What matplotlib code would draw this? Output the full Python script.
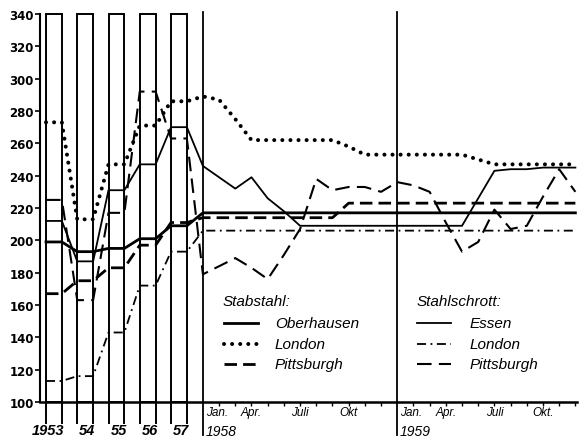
import matplotlib
matplotlib.use('Agg')
import matplotlib.pyplot as plt
from matplotlib.patches import Rectangle

# ---------------- data ----------------
years = ['1953', '54', '55', '56', '57']
# annual values 1953-1957
stab_oberhausen_y = [199, 193, 195, 201, 209]
stab_london_y = [273, 213, 247, 271, 286]
stab_pittsburgh_y = [167, 175, 183, 197, 211]
schrott_essen_y = [212, 187, 231, 247, 270]
schrott_london_y = [113, 116, 143, 172, 193]
schrott_pittsburgh_y = [225, 163, 217, 292, 263]

# monthly values Jan 1958 - Dec 1959
stab_oberhausen_m = [217, 217, 217, 217, 217, 217, 217, 217, 217, 217, 217, 217,
                     217, 217, 217, 217, 217, 217, 217, 217, 217, 217, 217, 217]
stab_london_m = [289, 287, 275, 262, 262, 262, 262, 262, 262, 258, 253, 253,
                 253, 253, 253, 253, 253, 250, 247, 247, 247, 247, 247, 247]
stab_pittsburgh_m = [214, 214, 214, 214, 214, 214, 214, 214, 214, 223, 223, 223,
                     223, 223, 223, 223, 223, 223, 223, 223, 223, 223, 223, 223]
schrott_essen_m = [246, 239, 232, 239, 226, 218, 209, 209, 209, 209, 209, 209,
                   209, 209, 209, 209, 209, 226, 243, 244, 244, 245, 245, 245]
schrott_london_m = [206, 206, 206, 206, 206, 206, 206, 206, 206, 206, 206, 206,
                    206, 206, 206, 206, 206, 206, 206, 206, 206, 206, 206, 206]
schrott_pittsburgh_m = [179, 184, 189, 183, 176, 191, 207, 238, 231, 233, 233, 230,
                        236, 234, 230, 211, 193, 199, 219, 207, 209, 227, 244, 230]

month_ticklabels = ['Jan.', 'Apr.', 'Juli', 'Okt', 'Jan.', 'Apr.', 'Juli', 'Okt.']
month_label_years = ['1958', '1959']

yticks = [100, 120, 140, 160, 180, 200, 220, 240, 260, 280, 300, 320, 340]

# ---------------- layout ----------------
YEAR_X0 = -9.2      # centre of first year box (in month units, Jan 1958 = 0)
YEAR_STEP = 1.93
BOX_HW = 0.49
N_MONTHS = 24

FONT = ['Liberation Sans', 'DejaVu Sans']

fig = plt.figure(figsize=(5.8, 4.39), dpi=100)
ax = fig.add_axes([40 / 580, 36 / 439, 537 / 580, 388 / 439])
ax.set_xlim(-10.06, 23.1)
ax.set_ylim(100, 340)

year_centres = [YEAR_X0 + YEAR_STEP * i for i in range(len(years))]
month_x = list(range(N_MONTHS))


def series_xy(yearly, monthly):
    xs, ys = [], []
    for c, v in zip(year_centres, yearly):
        xs += [c - BOX_HW, c + BOX_HW]
        ys += [v, v]
    xs += month_x
    ys += list(monthly)
    return xs, ys


styles = {
    'stab_oberhausen': dict(color='black', lw=2.0, ls='-'),
    'stab_london': dict(color='black', lw=2.9, ls=(0, (0.01, 2.0)),
                        dash_capstyle='round'),
    'stab_pittsburgh': dict(color='black', lw=2.0, ls=(0, (4.5, 2.2))),
    'schrott_essen': dict(color='black', lw=1.3, ls='-'),
    'schrott_london': dict(color='black', lw=1.3, ls=(0, (5, 2.5, 1, 2.5))),
    'schrott_pittsburgh': dict(color='black', lw=1.5, ls=(0, (7, 3.5))),
}

series = [
    ('stab_oberhausen', stab_oberhausen_y, stab_oberhausen_m),
    ('stab_london', stab_london_y, stab_london_m),
    ('stab_pittsburgh', stab_pittsburgh_y, stab_pittsburgh_m),
    ('schrott_essen', schrott_essen_y, schrott_essen_m),
    ('schrott_london', schrott_london_y, schrott_london_m),
    ('schrott_pittsburgh', schrott_pittsburgh_y, schrott_pittsburgh_m),
]
for key, yv, mv in series:
    xs, ys = series_xy(yv, mv)
    ax.plot(xs, ys, **styles[key], zorder=3)

# year boxes
for c in year_centres:
    ax.add_patch(Rectangle((c - BOX_HW, 100), 2 * BOX_HW, 240, fill=False,
                           edgecolor='black', lw=1.4, clip_on=False, zorder=2))
    for e in (c - BOX_HW, c + BOX_HW):
        ax.plot([e, e], [87, 100], color='black', lw=1.4, clip_on=False)

# year separators (Jan 1958, Jan 1959)
for xsep in (0, 12):
    ax.plot([xsep, xsep], [79.5, 341.5], color='black', lw=1.3, clip_on=False,
            zorder=2)

# axes styling
for s in ('top', 'right'):
    ax.spines[s].set_visible(False)
ax.spines['left'].set_linewidth(1.5)
ax.spines['bottom'].set_linewidth(1.8)
ax.set_yticks(yticks)
ax.set_yticklabels([str(t) for t in yticks], fontsize=8.5, fontweight='bold',
                   family='DejaVu Sans')
ax.tick_params(axis='y', direction='out', length=3.5, width=1.2, pad=1)
ax.set_xticks([m for m in month_x if m not in (0, 12)])
ax.set_xticklabels([])
ax.tick_params(axis='x', direction='out', length=3, width=1.0)

# year labels (right-aligned just past each box's right edge)
for c, lab in zip(year_centres, years):
    ax.text(c + BOX_HW + 0.15, 82.5, lab, ha='right', va='center', fontsize=10.5,
            style='italic', fontweight='bold', family=FONT, clip_on=False)

# month labels
label_months = [0, 3, 6, 9, 12, 15, 18, 21]
for m, lab in zip(label_months, month_ticklabels):
    if m % 12 == 0:
        ax.text(m + 0.2, 93.6, lab, ha='left', va='center', fontsize=8.5,
                style='italic', family=FONT, clip_on=False)
    else:
        ax.text(m, 93.6, lab, ha='center', va='center', fontsize=8.5,
                style='italic', family=FONT, clip_on=False)
for m, lab in zip((0, 12), month_label_years):
    ax.text(m + 0.15, 81.8, lab, ha='left', va='center', fontsize=10,
            style='italic', family=FONT, clip_on=False)

# legends (drawn manually)
legend_groups = [
    ('Stabstahl:', 1.23, 4.44, [('stab_oberhausen', 'Oberhausen'),
                                ('stab_london', 'London'),
                                ('stab_pittsburgh', 'Pittsburgh')]),
    ('Stahlschrott:', 13.19, 16.48, [('schrott_essen', 'Essen'),
                                     ('schrott_london', 'London'),
                                     ('schrott_pittsburgh', 'Pittsburgh')]),
]
row_y = [149, 136, 123.8]
for title, x0, xt, items in legend_groups:
    ax.text(x0, 162.4, title, ha='left', va='center', fontsize=11,
            style='italic', family=FONT)
    for (key, lab), yy in zip(items, row_y):
        ax.plot([x0 + 0.05, x0 + 2.15], [yy, yy], **styles[key])
        ax.text(xt, yy, lab, ha='left', va='center', fontsize=11,
                style='italic', family=FONT)

fig.savefig('out.png', dpi=100)
